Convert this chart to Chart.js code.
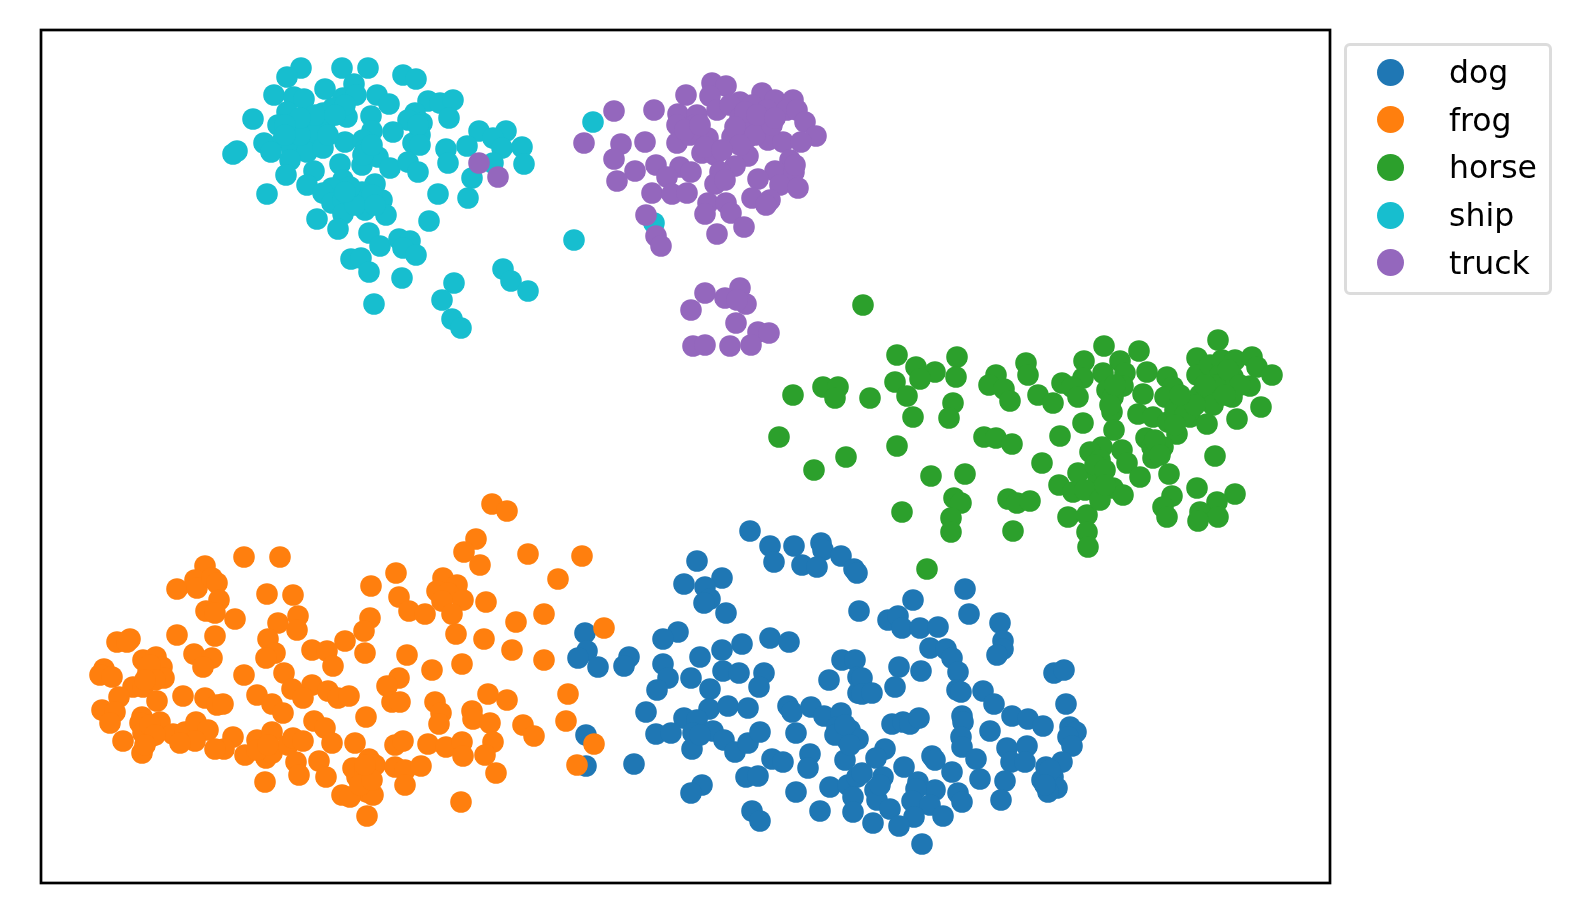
<!doctype html>
<html lang="en">
<head>
<meta charset="utf-8">
<title>t-SNE clusters</title>
<script src="https://cdn.jsdelivr.net/npm/chart.js"></script>
<style>
	body { margin: 0; background: #fff; }
	#wrap { position: relative; width: 1578px; height: 924px; overflow: hidden; }
	#legend { position: absolute; left: 1344px; top: 43px; width: 208px; height: 252px; padding-top: 2.5px; box-sizing: border-box;
		border: 3px solid #dcdcdc; border-radius: 6px; font: 31.5px "DejaVu Sans", sans-serif; color: #000; }
	.row { display: flex; align-items: center; height: 47.6px; }
	.dot { width: 27px; height: 27px; border-radius: 50%; margin-left: 30px; margin-right: 45px; }
</style>
</head>

<body>
<div id="wrap">
	<canvas id="myChart" width="1578" height="924"></canvas>
	<div id="legend"></div>
</div>

<script>
// values, axes have no ticks so units are arbitrary
const seriesNames = ['dog', 'frog', 'horse', 'ship', 'truck'];
const seriesColors = ['#1f77b4', '#ff7f0e', '#2ca02c', '#17becf', '#9467bd'];

const dogPoints = [[750,531],[770,546],[774,562],[794,546],[821,543],[823,550],[802,565],[817,567],[841,556],[854,569],[857,573],
[697,561],[684,584],[722,578],[705,587],[710,599],[704,603],[726,613],[859,611],[678,632],[663,639],[742,644],[770,638],[789,642],
[722,650],[700,657],[663,664],[723,671],[739,673],[764,673],[759,687],[668,678],[657,690],[691,678],[710,689],[842,660],[855,660],
[829,680],[858,677],[858,693],[646,712],[709,709],[728,706],[748,708],[788,706],[792,712],[811,707],[824,716],[841,713],[837,727],
[850,730],[847,740],[684,718],[697,720],[656,734],[671,733],[693,733],[713,731],[724,740],[735,752],[748,743],[760,732],[796,733],
[692,749],[772,759],[783,762],[810,754],[808,768],[845,760],[746,777],[758,776],[830,787],[702,785],[691,793],[796,792],[848,785],
[857,777],[853,797],[853,812],[820,811],[752,811],[760,821],[585,633],[587,651],[578,658],[598,667],[629,657],[624,666],[586,735],
[586,766],[634,764],[913,600],[965,589],[969,614],[1000,623],[888,620],[898,616],[902,628],[920,628],[938,627],[1003,641],[1003,649],
[997,655],[930,648],[946,649],[952,658],[958,672],[862,678],[899,667],[921,671],[895,687],[862,694],[872,693],[957,690],[961,692],
[983,691],[994,704],[1054,673],[1064,670],[1066,704],[1012,716],[1028,719],[1043,726],[962,716],[963,722],[892,724],[903,722],
[910,724],[919,718],[990,731],[858,739],[961,737],[962,747],[1070,727],[1076,732],[1068,737],[1072,746],[1007,748],[1027,746],
[885,749],[876,758],[932,756],[935,760],[976,759],[1011,762],[1025,762],[1062,762],[1046,767],[904,767],[952,772],[862,773],
[883,777],[980,779],[1005,781],[1042,780],[1053,777],[1057,788],[1048,792],[918,782],[935,790],[875,790],[916,789],[958,793],
[962,802],[1001,800],[877,800],[912,801],[890,809],[930,805],[943,816],[914,817],[873,823],[899,826],[922,844],
[835,735],[845,725],[850,745],[1050,770],[1045,785],[880,785],[700,735]];

const frogPoints = [[244,557],[280,557],[205,566],[177,589],[195,580],[197,588],[212,578],[217,583],[267,594],[293,595],[371,586],
[219,600],[206,611],[215,613],[235,619],[298,616],[278,623],[297,630],[370,618],[364,631],[177,635],[215,636],[130,639],[117,642],
[127,642],[268,639],[345,641],[312,650],[327,651],[365,653],[275,653],[266,658],[194,654],[212,658],[203,667],[143,660],[156,657],
[162,667],[104,669],[100,675],[112,677],[148,672],[164,678],[333,666],[244,675],[284,673],[133,687],[143,687],[292,689],[312,685],
[303,698],[328,691],[338,698],[349,696],[119,697],[157,701],[183,696],[205,698],[217,705],[223,704],[257,695],[272,704],[283,713],
[102,710],[115,712],[366,717],[314,721],[325,728],[110,723],[142,717],[160,722],[140,723],[150,737],[143,733],[173,734],[185,732],
[196,722],[208,730],[195,741],[180,743],[123,741],[142,753],[233,737],[224,749],[215,749],[245,755],[257,740],[272,732],[266,758],
[272,753],[257,750],[288,745],[293,738],[303,741],[332,743],[355,743],[319,761],[296,762],[299,775],[326,777],[265,782],[342,795],
[367,816],[369,759],[375,765],[353,768],[357,777],[368,778],[367,792],[373,795],[350,797],[492,504],[507,511],[476,539],[464,552],
[528,554],[582,556],[480,565],[396,573],[558,579],[443,578],[457,585],[437,591],[448,593],[442,601],[463,600],[399,597],[409,611],
[425,614],[452,614],[486,602],[544,614],[516,622],[604,628],[456,634],[484,639],[512,650],[544,660],[407,655],[432,670],[462,664],
[399,678],[387,686],[392,702],[400,702],[568,694],[566,721],[435,702],[441,713],[439,724],[472,711],[473,719],[488,694],[507,700],
[490,723],[523,725],[534,736],[594,744],[577,765],[395,745],[403,741],[428,744],[446,747],[462,742],[463,756],[493,742],[485,755],
[395,767],[405,770],[421,766],[405,785],[496,773],[461,802],
[150,665],[155,680],[145,680],[150,725],[155,735],[145,745],[365,770],[360,785],[372,780],[365,765],[268,745]];

const horsePoints = [[863,305],[897,355],[916,367],[957,357],[935,372],[956,377],[920,379],[895,382],[1026,363],[1028,375],[996,375],
[989,385],[1004,389],[1010,401],[1038,395],[823,387],[838,387],[835,398],[793,395],[870,398],[907,396],[913,417],[953,403],[949,418],
[779,437],[984,437],[996,438],[1012,444],[897,446],[846,457],[814,470],[931,476],[965,474],[954,498],[961,503],[1008,499],[1017,503],
[1030,501],[902,512],[951,518],[951,532],[1013,531],[927,569],[1218,340],[1104,346],[1139,351],[1084,361],[1120,361],[1197,358],
[1197,375],[1210,365],[1222,360],[1235,360],[1252,357],[1257,367],[1272,375],[1220,375],[1233,377],[1147,372],[1125,373],[1103,373],
[1167,377],[1083,378],[1062,383],[1072,387],[1173,387],[1250,386],[1223,383],[1107,390],[1123,386],[1053,403],[1078,397],[1143,394],
[1113,397],[1200,395],[1210,395],[1232,397],[1165,397],[1213,405],[1183,403],[1190,417],[1261,407],[1237,419],[1207,424],[1138,414],
[1153,417],[1168,422],[1112,412],[1083,423],[1114,430],[1177,434],[1060,436],[1146,438],[1163,447],[1152,447],[1153,458],[1215,456],
[1102,447],[1090,452],[1122,450],[1100,460],[1127,463],[1042,463],[1140,477],[1169,474],[1078,473],[1098,477],[1059,485],[1073,492],
[1097,492],[1113,488],[1123,495],[1197,488],[1235,494],[1172,496],[1217,502],[1163,507],[1167,517],[1200,512],[1218,517],[1198,521],
[1068,517],[1087,515],[1087,532],[1088,547],
[1095,465],[1105,470],[1085,490],[1100,500],[1105,485],[1110,405],[1115,385],[1175,410],[1185,415],[1195,405],[1180,395],[1175,425],
[1215,385],[1228,370],[1240,385],[1205,385],[1225,395],[1155,440],[1160,455]];

const shipPoints = [[301,68],[287,77],[342,68],[368,68],[403,75],[416,79],[354,84],[325,89],[274,95],[294,97],[304,99],[343,98],[356,95],
[377,95],[389,104],[428,101],[440,103],[453,100],[253,119],[287,112],[278,125],[323,113],[333,108],[347,117],[371,116],[415,113],
[408,120],[422,123],[449,118],[303,125],[315,127],[325,123],[372,131],[393,132],[420,135],[413,143],[479,131],[506,131],[493,138],
[264,143],[283,140],[345,142],[363,140],[446,149],[467,146],[502,148],[522,147],[237,151],[233,154],[271,152],[292,150],[310,140],
[315,135],[307,152],[323,148],[365,150],[378,157],[290,160],[340,164],[362,165],[390,168],[408,162],[418,172],[448,163],[493,163],
[524,164],[314,171],[286,175],[343,180],[375,184],[307,185],[332,188],[323,193],[362,192],[472,178],[438,194],[468,198],[267,194],
[382,200],[332,203],[343,200],[365,210],[386,215],[343,214],[317,219],[338,229],[429,221],[369,233],[380,246],[399,239],[410,241],
[403,248],[416,255],[351,259],[361,258],[369,272],[402,278],[454,283],[503,269],[511,281],[528,291],[442,300],[452,319],[461,328],
[374,304],[593,122],[574,240],[654,223],
[300,135],[315,115],[328,135],[300,118],[352,197],[372,195],[355,205],[375,205],[350,187],[345,192],[285,125],[285,135],[345,105],[335,115],
[363,155],[372,145],[418,125],[420,145]];

const truckPoints = [[712,83],[726,86],[686,95],[710,96],[740,102],[762,93],[775,100],[793,100],[614,111],[654,110],[678,114],[697,115],
[717,110],[730,105],[752,105],[767,110],[787,110],[797,110],[805,122],[816,136],[677,125],[695,125],[740,118],[762,118],[752,125],
[708,138],[732,137],[763,128],[747,138],[768,140],[783,142],[801,142],[584,143],[621,144],[645,142],[677,143],[702,153],[715,155],
[748,156],[614,159],[790,160],[735,166],[635,171],[656,165],[680,167],[691,172],[720,172],[775,171],[794,172],[617,181],[667,177],
[758,179],[715,184],[780,185],[798,188],[652,193],[672,194],[687,193],[752,198],[770,200],[766,205],[708,203],[726,203],[705,214],
[731,213],[744,227],[646,215],[717,234],[656,236],[661,246],[740,288],[705,293],[725,298],[746,304],[737,300],[691,310],[736,323],
[758,332],[769,333],[693,346],[705,345],[730,346],[751,345],[479,163],[498,177],
[745,112],[735,127],[755,135],[772,125],[757,115],[775,118],[740,145],[690,135],[685,130],[700,125],[705,147],[722,150],[725,180],[795,165]];

const seriesPoints = [dogPoints, frogPoints, horsePoints, shipPoints, truckPoints];

// axis limits in the same units as the arrays above
const xLimits = [41, 1330];
const yLimits = [30, 883];

const frame = {
	id: 'frame',
	afterDatasetsDraw(chart) {
		const a = chart.chartArea, ctx = chart.ctx;
		ctx.save();
		ctx.strokeStyle = '#000';
		ctx.lineWidth = 2.7;
		ctx.strokeRect(a.left, a.top, a.width, a.height);
		ctx.restore();
	}
};

new Chart(document.getElementById('myChart'), {
	type: 'scatter',
	data: {
		datasets: seriesNames.map((name, i) => ({
			label: name,
			data: seriesPoints[i].map(p => ({ x: p[0], y: p[1] })),
			backgroundColor: seriesColors[i],
			borderWidth: 0,
			pointRadius: 10.8,
			pointHoverRadius: 10.8,
			order: seriesNames.length - i // dog at the bottom, truck on top
		}))
	},
	options: {
		responsive: false,
		animation: false,
		layout: { padding: { left: 41, top: 30, right: 248, bottom: 41 } },
		scales: {
			x: { type: 'linear', display: false, min: xLimits[0], max: xLimits[1] },
			y: { type: 'linear', display: false, reverse: true, min: yLimits[0], max: yLimits[1] }
		},
		plugins: {
			legend: { display: false },
			tooltip: { enabled: false }
		}
	},
	plugins: [frame]
});

// legend as html, box with matplotlib look
const legendBox = document.getElementById('legend');
seriesNames.forEach((name, i) => {
	const row = document.createElement('div');
	row.className = 'row';
	const dot = document.createElement('span');
	dot.className = 'dot';
	dot.style.background = seriesColors[i];
	const label = document.createElement('span');
	label.textContent = name;
	row.append(dot, label);
	legendBox.append(row);
});
</script>
</body>
</html>
